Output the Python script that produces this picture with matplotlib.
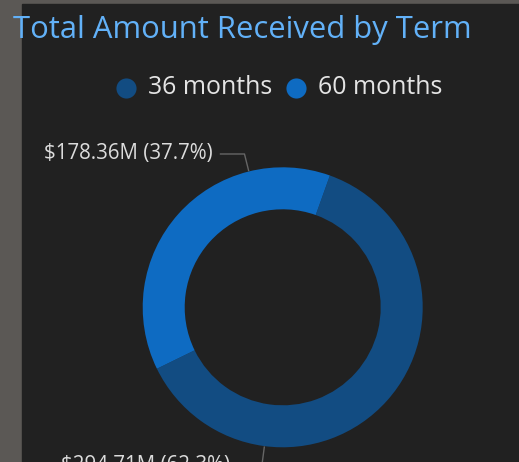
import matplotlib
matplotlib.use('Agg')
import matplotlib.pyplot as plt
from matplotlib.patches import Rectangle
import numpy as np

terms = ['36 months', '60 months']
amounts = [294.71, 178.36]  # $M received
colors = ['#124c82', '#0e6bc2']

title = 'Total Amount Received by Term'

W, H = 519, 462
plt.rcParams['font.family'] = ['Open Sans', 'DejaVu Sans']

fig = plt.figure(figsize=(W / 100, H / 100), dpi=100)
fig.patch.set_facecolor('#5b5855')
ax = fig.add_axes([0, 0, 1, 1])

# dark panel
ax.add_patch(Rectangle((22, 0), W - 22, H - 4, color='#212121', zorder=0))

# donut
cx, cy = 282.7, H - 307.3
r_out = 140
wedges, _ = ax.pie(amounts, colors=colors, startangle=70.3, counterclock=False,
                   center=(cx, cy), radius=r_out, frame=True,
                   wedgeprops=dict(width=42, linewidth=0))
ax.set_xlim(0, W)
ax.set_ylim(0, H)
ax.set_aspect('equal')
ax.axis('off')

# data labels with leader lines (anchor angle, elbow radius)
total = sum(amounts)
leaders = {'36 months': (262.5, 159.5), '60 months': (104, 158)}
for term, val in zip(terms, amounts):
    ang, r_elb = leaders[term]
    a = np.deg2rad(ang)
    x0, y0 = cx + 141 * np.cos(a), cy + 141 * np.sin(a)
    x1, y1 = cx + r_elb * np.cos(a), cy + r_elb * np.sin(a)
    x2 = x1 - 24
    ax.plot([x0, x1, x2], [y0, y1, y1], color='#666666', lw=1, zorder=3,
            clip_on=False)
    lbl = f'${val:.2f}M ({val / total * 100:.1f}%)'
    ax.text(x2 - 8, y1, lbl, ha='right', va='center', fontsize=14.8,
            color='#dcdcdc')

# title
ax.text(13, H - 38, title, ha='left', va='baseline', fontsize=22.3,
        color='#62b1f8')

# legend
leg_x = [126, 296]
for term, c, lx in zip(terms, colors, leg_x):
    ax.plot(lx, H - 87.5, 'o', ms=14.5, color=c, mec='none')
    ax.text(lx + 22, H - 87.5, term, ha='left', va='center', fontsize=17.9,
            color='#e4e4e4')

fig.savefig('out.png', dpi=100, facecolor=fig.get_facecolor())
